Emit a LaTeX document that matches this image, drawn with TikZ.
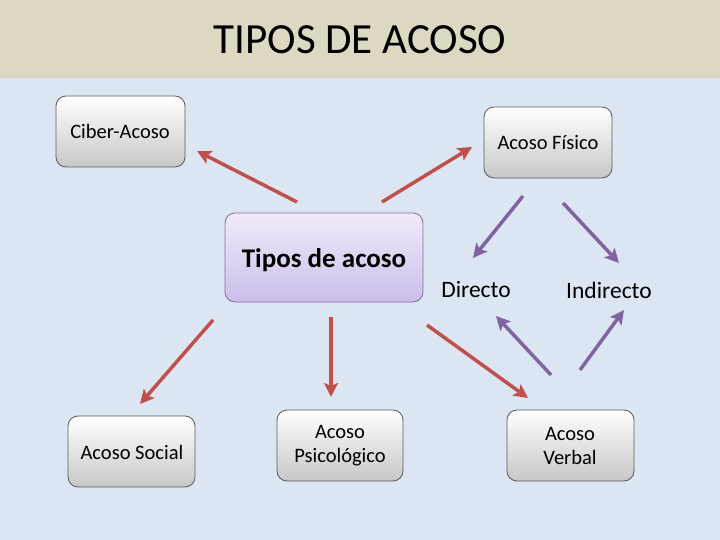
\documentclass[tikz,border=0pt]{standalone}
\usepackage{fontspec}
\setmainfont{Carlito}
\usetikzlibrary{arrows.meta}

\definecolor{titlebg}{RGB}{221,216,194}
\definecolor{slidebg}{RGB}{220,230,242}
\definecolor{redarrow}{RGB}{192,80,77}
\definecolor{purplearrow}{RGB}{128,100,162}
\definecolor{boxedge}{RGB}{90,90,90}
\definecolor{lavedge}{RGB}{130,110,160}
\definecolor{lavtop}{RGB}{240,234,250}
\definecolor{lavbot}{RGB}{204,190,234}

\tikzset{
  graybox/.style={draw=boxedge, line width=0.8pt, rounded corners=10pt,
    top color=white, bottom color=black!22},
  boxlabel/.style={align=center, font=\fontsize{20.5}{24}\selectfont},
  redlink/.style={draw=redarrow, line width=3.5pt,
    -{Stealth[length=14pt,width=14pt,inset=3pt]}},
  purplelink/.style={draw=purplearrow, line width=3.5pt,
    -{Stealth[length=14pt,width=14pt,inset=3pt]}}
}

\begin{document}
\begin{tikzpicture}[x=1pt,y=-1pt]
  \useasboundingbox (0,0) rectangle (720,540);
  % background and title band
  \fill[slidebg] (0,0) rectangle (720,540);
  \fill[titlebg] (0,0) rectangle (720,78);
  \node[font=\fontsize{43}{48}\selectfont] (title) at (360,40) {TIPOS DE ACOSO};

  % boxes
  \path[graybox] (56,96) rectangle (185,167);
  \node[boxlabel] (ciber) at (120,131) {Ciber-Acoso};
  \path[graybox] (484,107) rectangle (612,178);
  \node[boxlabel] (fisico) at (548,143) {Acoso Físico};
  \path[draw=lavedge, line width=0.8pt, rounded corners=10pt,
    top color=lavtop, bottom color=lavbot] (225,213) rectangle (423,302);
  \node[font=\fontsize{27}{30}\selectfont\bfseries] (tipos) at (324,260) {Tipos de acoso};
  \path[graybox] (68,416) rectangle (195,487);
  \node[boxlabel] (social) at (132,452) {Acoso Social};
  \path[graybox] (277,410) rectangle (403,481);
  \node[boxlabel] (psico) at (340,446) {Acoso\\Psicológico};
  \path[graybox] (507,410) rectangle (634,481);
  \node[boxlabel] (verbal) at (570,446) {Acoso\\Verbal};

  % plain labels
  \node[font=\fontsize{23.5}{26}\selectfont] (directo) at (476,290) {Directo};
  \node[font=\fontsize{23.5}{26}\selectfont] (indirecto) at (609,290) {Indirecto};

  % arrow ends
  \coordinate (r1a) at (297,202); \coordinate (r1b) at (197,151);
  \coordinate (r2a) at (382,202); \coordinate (r2b) at (472,147);
  \coordinate (r3a) at (213,320); \coordinate (r3b) at (140,404);
  \coordinate (r4a) at (331,317); \coordinate (r4b) at (331,397);
  \coordinate (r5a) at (427,325); \coordinate (r5b) at (528,398);
  \coordinate (p1a) at (523,196); \coordinate (p1b) at (473,258);
  \coordinate (p2a) at (563,203); \coordinate (p2b) at (619,263);
  \coordinate (p3a) at (551,375); \coordinate (p3b) at (496,316);
  \coordinate (p4a) at (580,370); \coordinate (p4b) at (624,310);

  % arrows
  \foreach \s/\e in {r1a/r1b, r2a/r2b, r3a/r3b, r4a/r4b, r5a/r5b}
    \draw[redlink] (\s) -- (\e);
  \foreach \s/\e in {p1a/p1b, p2a/p2b, p3a/p3b, p4a/p4b}
    \draw[purplelink] (\s) -- (\e);
\end{tikzpicture}
\end{document}
